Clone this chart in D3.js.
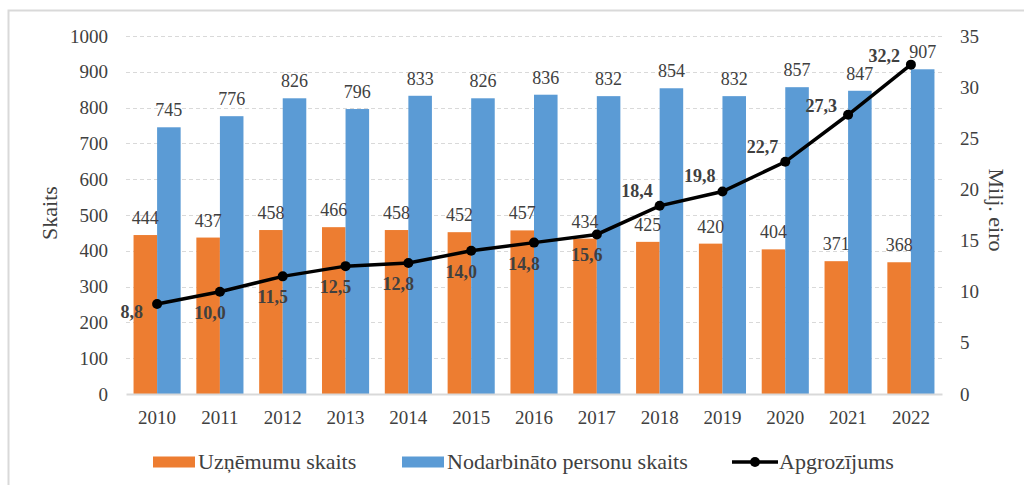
<!DOCTYPE html>
<html>
<head>
<meta charset="utf-8">
<script src="https://cdn.jsdelivr.net/npm/d3@7"></script>
<style>
  body { margin: 0; background: #fff; }
  svg { display: block; }
</style>
</head>
<body>
<svg id="chart" width="1024" height="485"></svg>
<script>
// chart data
const years = ["2010","2011","2012","2013","2014","2015","2016","2017","2018","2019","2020","2021","2022"];
const companies = [444, 437, 458, 466, 458, 452, 457, 434, 425, 420, 404, 371, 368];
const employees = [745, 776, 826, 796, 833, 826, 836, 832, 854, 832, 857, 847, 907];
const turnover = [8.8, 10.0, 11.5, 12.5, 12.8, 14.0, 14.8, 15.6, 18.4, 19.8, 22.7, 27.3, 32.2];
const leftTicks = [0, 100, 200, 300, 400, 500, 600, 700, 800, 900, 1000];
const rightTicks = [0, 5, 10, 15, 20, 25, 30, 35];
// where each turnover label sits relative to its point
const labelPlace = ["left","below","below","below","below","below","below","below","above","above","above","upleft","upleft"];

const serif = "'Liberation Serif', 'Times New Roman', serif";
const svg = d3.select('#chart').attr('font-family', serif);
const margin = {left: 126, right: 82, top: 36, bottom: 91};
const W = 1024, H = 485;
const textCol = '#404040';

// outer frame (only top and left edges fall inside the picture)
svg.append('rect')
    .attr('x', 8.5).attr('y', 10.5)
    .attr('width', 1030).attr('height', 490)
    .attr('fill', 'none').attr('stroke', '#d9d9d9').attr('stroke-width', 2);

const x = d3.scaleBand()
    .domain(years)
    .range([margin.left, W - margin.right])
    .paddingInner(0.25).paddingOuter(0.12);

const xs = d3.scaleBand()
    .domain(['c', 'e'])
    .range([0, x.bandwidth()]);

const yL = d3.scaleLinear().domain([0, 1000]).range([H - margin.bottom, margin.top]);
const yR = d3.scaleLinear().domain([0, 35]).range([H - margin.bottom, margin.top]);

// gridlines
svg.append('g').selectAll('line')
    .data(leftTicks.slice(1))
    .enter().append('line')
    .attr('x1', margin.left).attr('x2', W - margin.right)
    .attr('y1', d => Math.round(yL(d)) + 0.5).attr('y2', d => Math.round(yL(d)) + 0.5)
    .attr('stroke', '#d9d9d9').attr('stroke-dasharray', '4,3');

// left axis
const axL = svg.append('g')
    .attr('transform', `translate(${margin.left - 18},0)`)
    .call(d3.axisLeft(yL).tickValues(leftTicks).tickFormat(d3.format('d')).tickSize(0).tickPadding(0));
axL.select('.domain').remove();
axL.attr('font-family', serif);
axL.selectAll('text').attr('font-size', 19).attr('fill', textCol);

// right axis
const axR = svg.append('g')
    .attr('transform', `translate(${W - margin.right + 18},0)`)
    .call(d3.axisRight(yR).tickValues(rightTicks).tickSize(0).tickPadding(0));
axR.select('.domain').remove();
axR.attr('font-family', serif);
axR.selectAll('text').attr('font-size', 19).attr('fill', textCol);

// bars
const groups = svg.append('g').selectAll('g')
    .data(years)
    .enter().append('g')
    .attr('transform', d => `translate(${x(d)},0)`);

groups.append('rect')
    .attr('x', 0)
    .attr('y', (d, i) => yL(companies[i]))
    .attr('width', xs.bandwidth())
    .attr('height', (d, i) => yL(0) - yL(companies[i]))
    .attr('fill', '#ED7D31');

groups.append('rect')
    .attr('x', xs('e'))
    .attr('y', (d, i) => yL(employees[i]))
    .attr('width', xs.bandwidth())
    .attr('height', (d, i) => yL(0) - yL(employees[i]))
    .attr('fill', '#5B9BD5');

groups.append('text')
    .attr('x', xs.bandwidth() / 2)
    .attr('y', (d, i) => yL(companies[i]) - 11)
    .attr('text-anchor', 'middle').attr('font-size', 18).attr('fill', textCol)
    .text((d, i) => companies[i]);

groups.append('text')
    .attr('x', xs('e') + xs.bandwidth() / 2)
    .attr('y', (d, i) => yL(employees[i]) - 11)
    .attr('text-anchor', 'middle').attr('font-size', 18).attr('fill', textCol)
    .text((d, i) => employees[i]);

// x axis
const axX = svg.append('g')
    .attr('transform', `translate(0,${yL(0)})`)
    .call(d3.axisBottom(x).tickSize(0).tickPadding(17));
axX.select('.domain').attr('stroke', '#d9d9d9').attr('stroke-width', 2);
axX.attr('font-family', serif);
axX.selectAll('text').attr('font-size', 19).attr('fill', textCol);

// turnover line
const cx = d => x(d) + x.bandwidth() / 2;
const line = d3.line()
    .x((d, i) => cx(years[i]))
    .y(d => yR(d));

svg.append('path')
    .datum(turnover)
    .attr('d', line)
    .attr('fill', 'none').attr('stroke', '#000').attr('stroke-width', 3.5);

svg.append('g').selectAll('circle')
    .data(turnover)
    .enter().append('circle')
    .attr('cx', (d, i) => cx(years[i]))
    .attr('cy', d => yR(d))
    .attr('r', 5).attr('fill', '#000');

// label offsets per placement
const offs = {
    left:   {dx: -14, dy: 14},
    below:  {dx: -10, dy: 27},
    above:  {dx: -7,  dy: -9},
    upleft: {dx: -11, dy: -3}
};
const fmt = v => v.toFixed(1).replace('.', ',');
svg.append('g').selectAll('text')
    .data(turnover)
    .enter().append('text')
    .attr('x', (d, i) => cx(years[i]) + offs[labelPlace[i]].dx)
    .attr('y', (d, i) => yR(d) + offs[labelPlace[i]].dy)
    .attr('text-anchor', (d, i) => labelPlace[i] === 'below' ? 'middle' : 'end')
    .attr('font-size', 18).attr('font-weight', 'bold').attr('fill', textCol)
    .text(fmt);

// axis titles
svg.append('text')
    .attr('transform', `translate(57,${(yL(0) + yL(1000)) / 2 - 2}) rotate(-90)`)
    .attr('text-anchor', 'middle').attr('font-size', 22).attr('fill', textCol)
    .text('Skaits');

svg.append('text')
    .attr('transform', `translate(989,${(yL(0) + yL(1000)) / 2 - 5}) rotate(90)`)
    .attr('text-anchor', 'middle').attr('font-size', 22).attr('fill', textCol)
    .text('Milj. eiro');

// legend
const legend = svg.append('g').attr('transform', 'translate(0,462)');
const items = [
    {label: 'Uzņēmumu skaits', type: 'rect', color: '#ED7D31', x: 153},
    {label: 'Nodarbināto personu skaits', type: 'rect', color: '#5B9BD5', x: 402},
    {label: 'Apgrozījums', type: 'line', color: '#000', x: 732}
];
items.forEach(it => {
    if (it.type === 'rect') {
        legend.append('rect').attr('x', it.x).attr('y', -5.5).attr('width', 42).attr('height', 11).attr('fill', it.color);
    } else {
        legend.append('line').attr('x1', it.x).attr('x2', it.x + 46).attr('y1', 0).attr('y2', 0)
            .attr('stroke', it.color).attr('stroke-width', 3.5);
        legend.append('circle').attr('cx', it.x + 23).attr('cy', 0).attr('r', 5).attr('fill', it.color);
    }
    legend.append('text').attr('x', it.x + (it.type === 'rect' ? 45 : 47)).attr('y', 7)
        .attr('font-size', 22).attr('fill', textCol)
        .text(it.label);
});
</script>
</body>
</html>
